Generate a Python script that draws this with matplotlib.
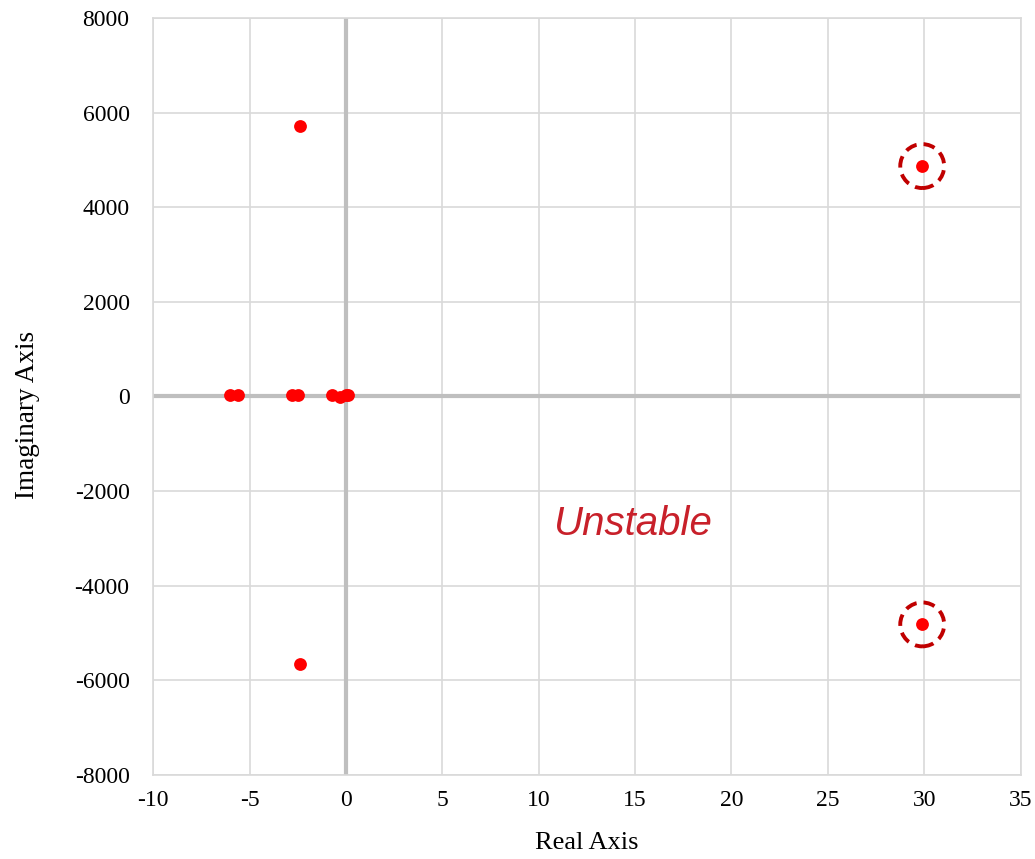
import matplotlib
matplotlib.use("Agg")
import matplotlib.pyplot as plt

plt.rcParams["axes.unicode_minus"] = False

# Pole locations
real_parts = [-6.0, -5.6, -2.8, -2.5, -0.7, -0.3, 0.0, 0.1, -2.4, -2.4, 29.9, 29.9]
imag_parts = [30, 30, 30, 30, 30, -20, 30, 30, 5720, -5650, 4870, -4820]

# Poles highlighted as unstable
unstable_real = [29.9, 29.9]
unstable_imag = [4870, -4820]

x_ticks = [-10, -5, 0, 5, 10, 15, 20, 25, 30, 35]
y_ticks = [-8000, -6000, -4000, -2000, 0, 2000, 4000, 6000, 8000]

fig = plt.figure(figsize=(10.35, 8.59), dpi=100)
ax = fig.add_axes([0.148, 0.098, 0.838, 0.881])

ax.set_xlim(-10, 35)
ax.set_ylim(-8000, 8000)
ax.set_xticks(x_ticks)
ax.set_yticks(y_ticks)
ax.grid(True, color="#d9d9d9", linewidth=1.2)
ax.set_axisbelow(True)
ax.axhline(0, color="#bfbfbf", linewidth=3, zorder=1)
ax.axvline(0, color="#bfbfbf", linewidth=3, zorder=1)

for s in ax.spines.values():
    s.set_color("#d9d9d9")
    s.set_linewidth(1.2)
ax.tick_params(axis="x", length=0, pad=11)
ax.tick_params(axis="y", length=0, pad=17)

serif = ["Liberation Serif", "DejaVu Serif"]
for lab in ax.get_xticklabels() + ax.get_yticklabels():
    lab.set_fontfamily(serif)
    lab.set_fontsize(17)

ax.scatter(real_parts, imag_parts, s=85, color="red", zorder=3, linewidths=0)
ax.scatter(unstable_real, unstable_imag, s=1000, facecolors="none",
           edgecolors="#c00000", linewidths=2.8, linestyles=(0, (3.0, 1.8)), zorder=3)

ax.text(14.9, -2700, "Unstable", color="#c8202a", fontsize=29, style="italic",
        ha="center", va="center", family=["Liberation Sans", "DejaVu Sans"])

ax.set_xlabel("Real Axis", fontsize=19, family=serif)
ax.set_ylabel("Imaginary Axis", fontsize=19.5, family=serif)
ax.xaxis.set_label_coords(0.5, -0.075)
ax.yaxis.set_label_coords(-0.13, 0.475)

fig.savefig("out.png", dpi=100)
